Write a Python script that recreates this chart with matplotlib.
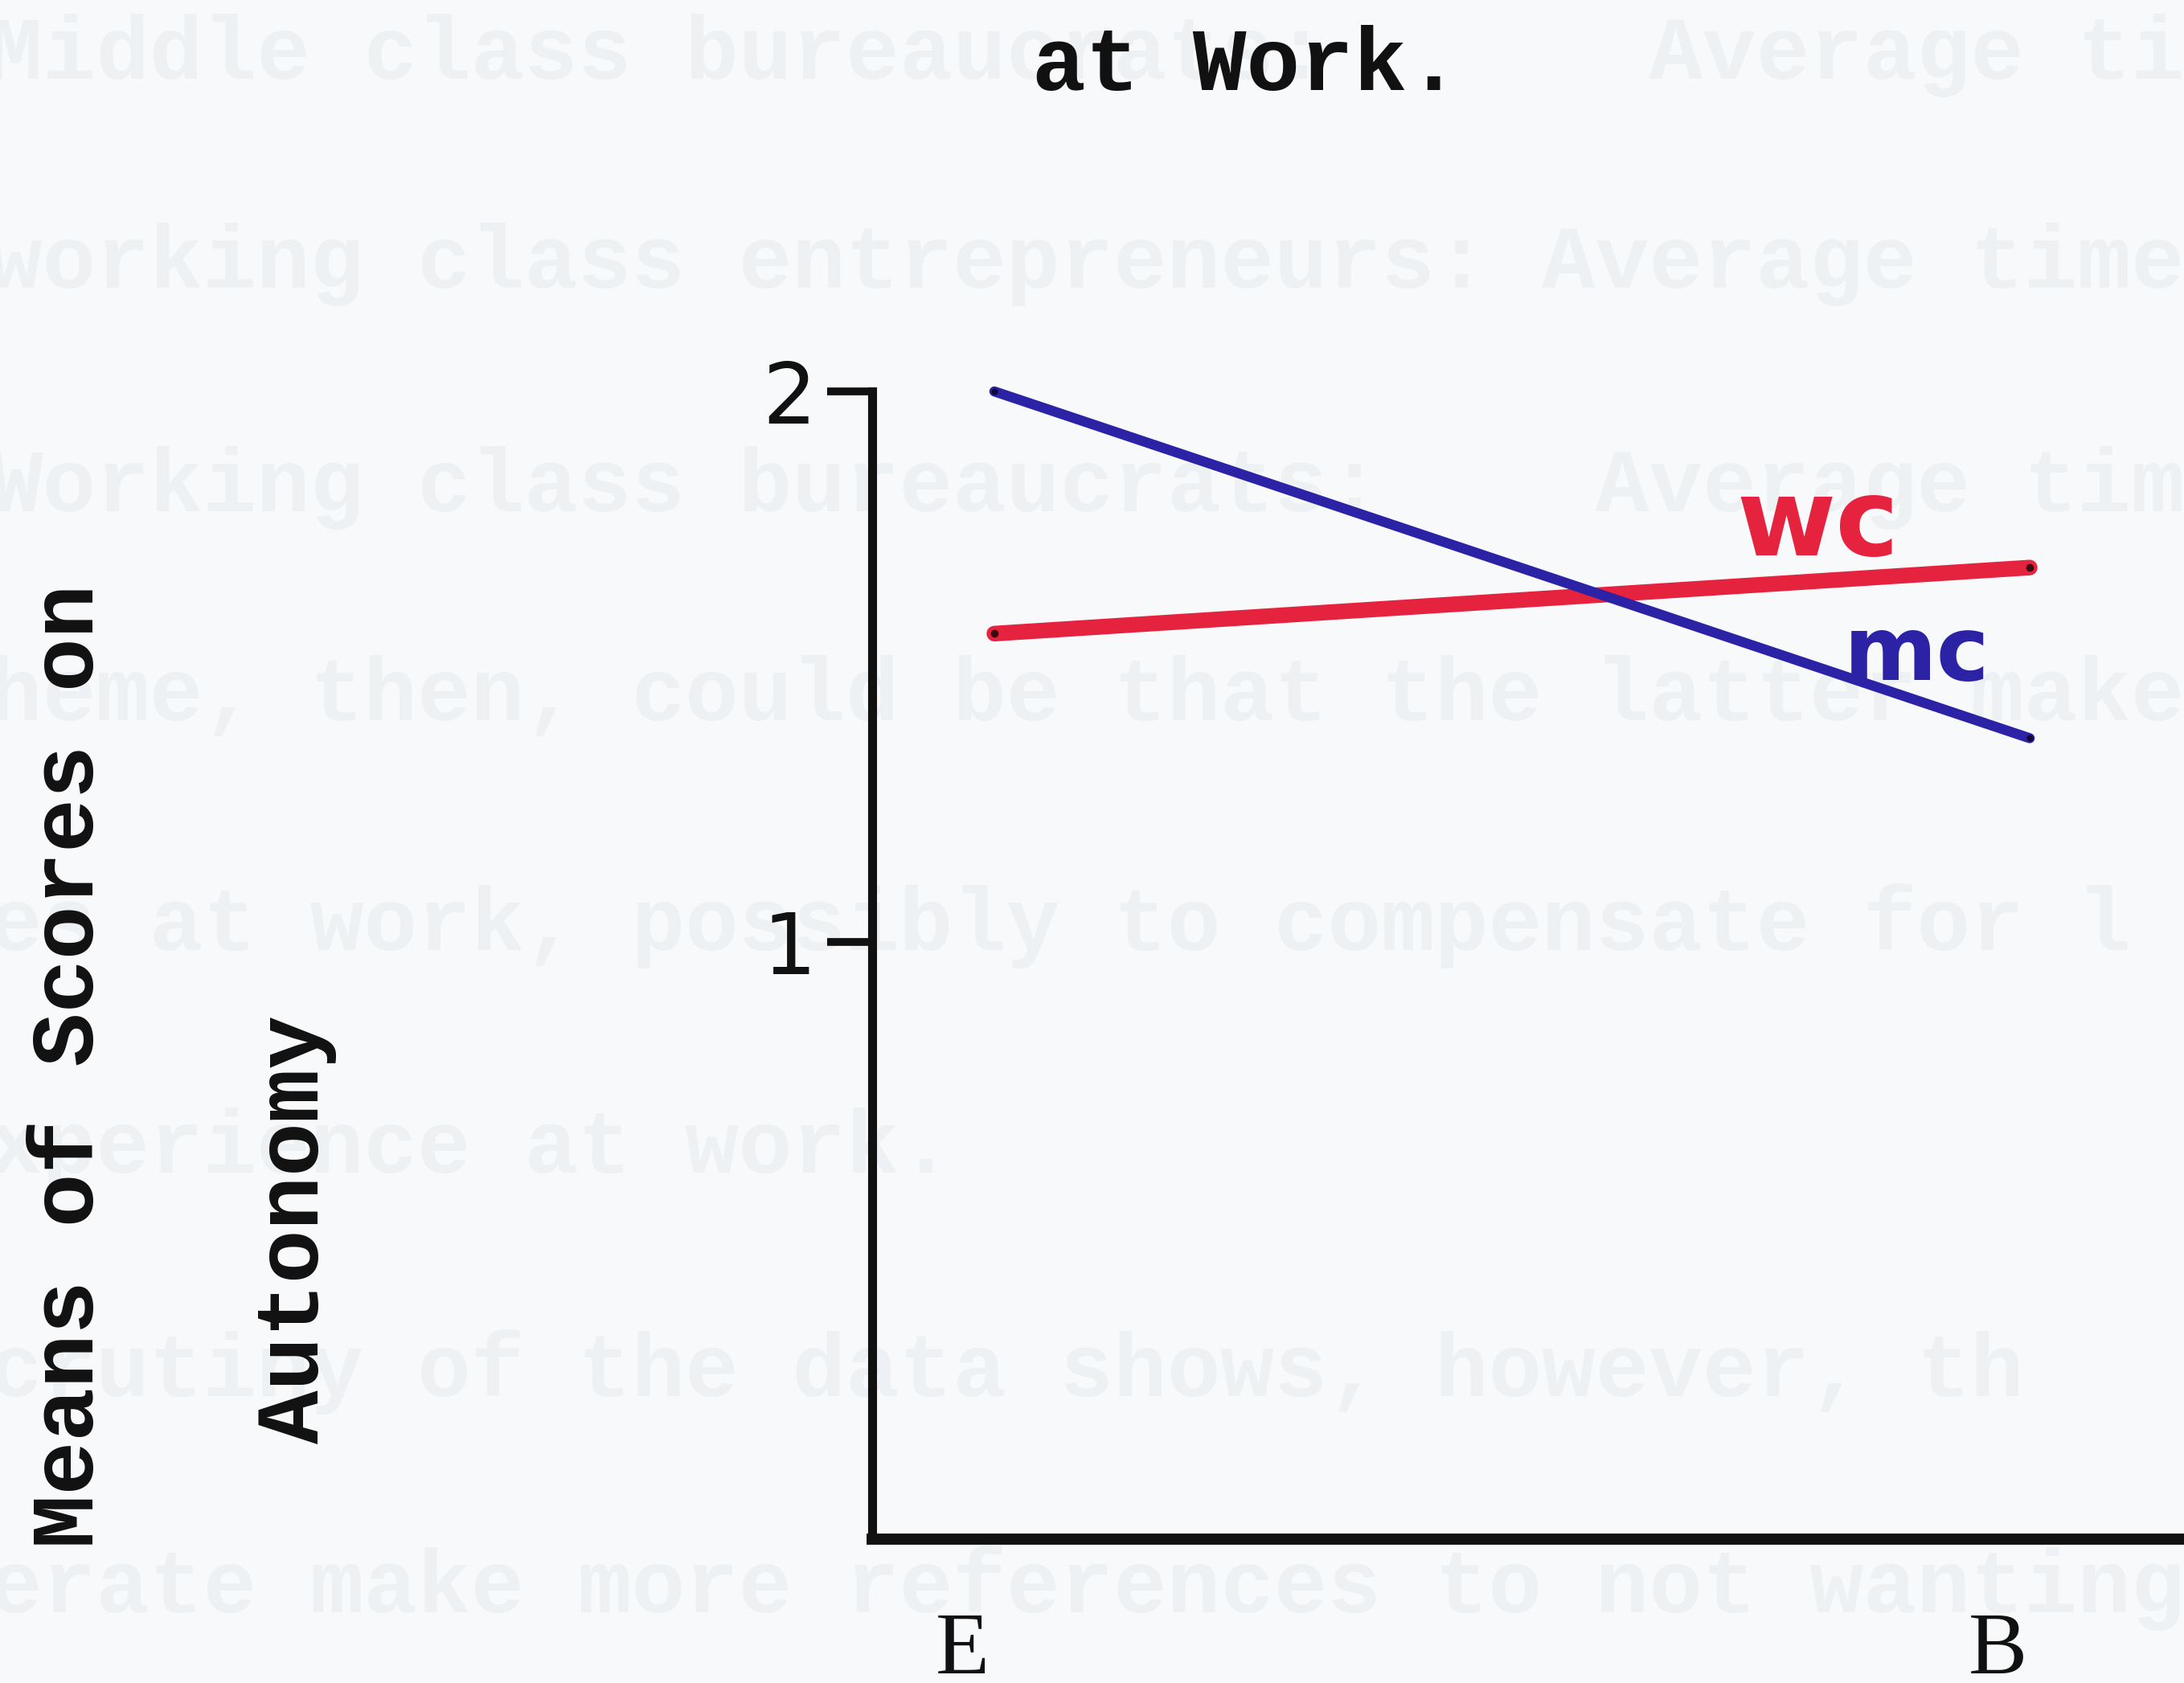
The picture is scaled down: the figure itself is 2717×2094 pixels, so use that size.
import matplotlib
matplotlib.use("Agg")
import matplotlib.pyplot as plt
import matplotlib.transforms as mtransforms

# ---- data ----
categories = ["E", "B"]
mc_values = [2.0, 1.37]
wc_values = [1.56, 1.68]
series_names = ["wc", "mc"]
ytick_values = [1, 2]
ytick_labels = ["1", "2"]
title_text = "at Work."
ylabel_line1 = "Means of Scores on"
ylabel_line2 = "Autonomy"
show_through = [
    "Middle class bureaucrats:      Average time",
    "working class entrepreneurs: Average time",
    "Working class bureaucrats:    Average time",
    "heme, then, could be that the latter make",
    "es at work, possibly to compensate for l",
    "xperience at work.",
    "crutiny of the data shows, however, th",
    "erate make more references to not wanting",
]

W, H = 2717, 2094
DPI = 100
BG = "#f7f9fa"
RED = "#e5233f"
BLUE = "#2b22a6"
MONO = ["Liberation Mono", "DejaVu Sans Mono"]

fig = plt.figure(figsize=(W / DPI, H / DPI), dpi=DPI, facecolor=BG)

# faint show-through text of the scanned page
st_y = [40, 190, 350, 500, 665, 825, 985, 1140]
for yy, line in zip(st_y, show_through):
    fig.text(-0.005, 1 - yy * 1.733 / H, line, fontsize=80, family=MONO,
             fontweight="bold", color="#eef1f3", ha="left", va="center",
             zorder=-10)

ax = fig.add_axes([1085 / W, 1 - 1915 / H, 1 - 1085 / W, (1915 - 487) / H])
ax.set_facecolor("none")
ax.set_zorder(2)
x = list(range(len(categories)))
ax.set_xlim(-0.118, 1.149)
ax.set_ylim(-0.085, 2.0)

ax.plot(x, wc_values, color=RED, lw=14, solid_capstyle="round", clip_on=False,
        marker="o", ms=6, mfc="#3a0a10", mec="#3a0a10", zorder=3)
ax.plot(x, mc_values, color=BLUE, lw=9, solid_capstyle="round", clip_on=False,
        marker="o", ms=5, mfc="#10083a", mec="#10083a", zorder=4)

for s in ["top", "right"]:
    ax.spines[s].set_visible(False)
ax.spines["left"].set_linewidth(8)
ax.spines["bottom"].set_linewidth(10)
ax.spines["left"].set_color("#111111")
ax.spines["bottom"].set_color("#111111")

ax.set_yticks(ytick_values)
ax.set_yticklabels(ytick_labels, fontsize=76, family="DejaVu Sans", color="#111111")
ax.tick_params(axis="y", length=40, width=7, pad=10, color="#111111")
ax.set_xticks([])

# category labels (typed, serif)
off = mtransforms.ScaledTranslation(-40 / DPI, 0, fig.dpi_scale_trans)
trans = mtransforms.blended_transform_factory(ax.transData + off, fig.transFigure)
for xi, cat in zip(x, categories):
    ax.text(xi, 1 - 2082 / H, cat, transform=trans, fontsize=79,
            family=["Liberation Serif", "DejaVu Serif"], color="#111111",
            ha="center", va="baseline", clip_on=False)

# hand-written series labels
ax.text(0.795, 1.756, series_names[0], color=RED, fontsize=96, fontweight="bold",
        family="DejaVu Sans", ha="center", va="center")
ax.text(0.891, 1.52, series_names[1], color=BLUE, fontsize=80, fontweight="bold",
        family="DejaVu Sans", ha="center", va="center")

# title and y label (typewritten)
fig.text(1551 / W, 1 - 83 / H, title_text, fontsize=80, family=MONO,
         fontweight="bold", color="#111111", ha="center", va="center", zorder=5)
fig.text(87 / W, 1 - 1326 / H, ylabel_line1, fontsize=80, family=MONO,
         fontweight="bold", color="#111111", ha="center", va="center", rotation=90,
         zorder=5)
fig.text(367 / W, 1 - 1529 / H, ylabel_line2, fontsize=80, family=MONO,
         fontweight="bold", color="#111111", ha="center", va="center", rotation=90,
         zorder=5)

fig.savefig("out.png", dpi=DPI, facecolor=BG)
